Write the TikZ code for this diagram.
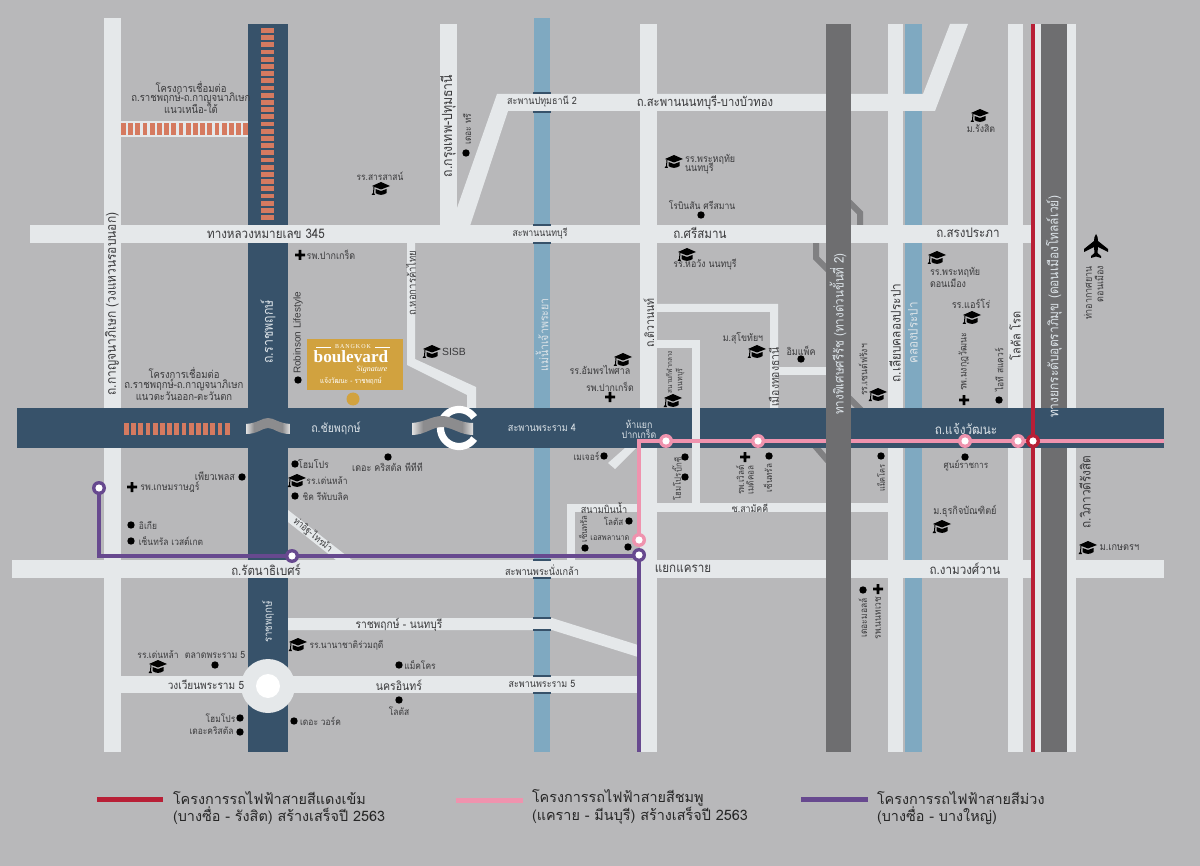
\documentclass[tikz,border=0pt]{standalone}
\usepackage{fontspec}
\setmainfont{Loma}[Script=Thai,FakeStretch=0.88]
\newfontfamily\lgf{Loma}[Script=Thai]
\newfontfamily\latinserif{Liberation Serif}
\newfontfamily\latinsans{Liberation Sans}
\definecolor{bgc}{HTML}{B8B8BA}
\definecolor{roadc}{HTML}{E5E8EA}
\definecolor{navyc}{HTML}{37526A}
\definecolor{riverc}{HTML}{7FA9C1}
\definecolor{expc}{HTML}{6E6E70}
\definecolor{linkc}{HTML}{808082}
\definecolor{salmonc}{HTML}{D57A60}
\definecolor{goldc}{HTML}{D1A23F}
\definecolor{pinkc}{HTML}{EF93AE}
\definecolor{redc}{HTML}{B81F36}
\definecolor{purplec}{HTML}{67498F}
\definecolor{inkc}{HTML}{3A3A3C}
\definecolor{lightt}{HTML}{DCE3E8}
\definecolor{ovpe}{HTML}{E2E2E2}
\definecolor{ovpm}{HTML}{8C8C8E}
\pgfdeclarehorizontalshading{ovpshade}{100bp}{color(0bp)=(ovpe); color(25bp)=(ovpe); color(34bp)=(ovpm); color(66bp)=(ovpm); color(75bp)=(ovpe); color(100bp)=(ovpe)}
\newcounter{tn}
\tikzset{
 tx/.style={inner sep=0pt,outer sep=0pt,text=inkc,align=center,font=\fontsize{#1}{#1}\selectfont},
 tx/.default=5,
 lt/.style={tx=#1,text=lightt},
 lt/.default=6,
 road/.style={fill=roadc,draw=none},
 tick/.style={draw=navyc,line width=1pt},
 salm/.style={fill=salmonc,draw=none},
 link/.style={draw=linkc,line width=3pt},
 dotm/.style={circle,fill=black,inner sep=0pt,minimum size=3.7pt,outer sep=0pt},
 ovp/.style={shading=ovpshade},
}
\newcommand{\T}[4][tx]{\stepcounter{tn}\node[#1,name=t\arabic{tn}] at (#2,#3) {#4};}
\newcommand{\R}[4][tx]{\stepcounter{tn}\node[#1,rotate=90,name=t\arabic{tn}] at (#2,#3) {#4};}
\newcommand{\D}[2]{\stepcounter{tn}\node[dotm,name=d\arabic{tn}] at (#1,#2) {};}
\newcommand{\X}[2]{\fill[black] (#1-5,#2-1.3) rectangle (#1+5,#2+1.3) (#1-1.3,#2-5) rectangle (#1+1.3,#2+5);}
\newcommand{\C}[2]{\begin{scope}[shift={(#1,#2)}]
 \fill[black] (-9,-2) -- (0,-6) -- (9,-2) -- (0,1.5) -- cycle;
 \fill[black] (-5.5,1) -- (0,3) -- (5.5,1) -- (5.5,5) .. controls (2,7.5) and (-2,7.5) .. (-5.5,5) -- cycle;
 \draw[black,line width=.5pt] (-7,-1) -- (-7.5,5);
 \fill[black] (-7.5,4) -- (-9.5,7) -- (-6,7) -- cycle;
\end{scope}}
\begin{document}
\begin{tikzpicture}[x=0.5pt,y=-0.5pt]
\useasboundingbox (0,0) rectangle (1200,866);
\fill[bgc] (0,0) rectangle (1200,866);
% rivers
\fill[riverc] (534,18) rectangle (550,752);
\fill[riverc] (905,24) rectangle (922,752);
% link stubs of the expressway
\draw[link] (816,243) -- (816,258) -- (828,270);
\draw[link] (849,202) -- (860,213) -- (860,226);
\draw[link] (849,398) -- (861,410);
\draw[link] (815,446) -- (828,461);
% light vertical roads
\fill[road] (104,18) rectangle (121,752);
\fill[road] (440,24) rectangle (457,226);
\fill[road] (640,24) rectangle (657,752);
\fill[road] (888,24) rectangle (903,752);
\fill[road] (1008,24) rectangle (1023,752);
\fill[road] (1035,24) rectangle (1041,752);
\fill[road] (1067,24) rectangle (1076,752);
% light horizontal roads
\fill[road] (497,94) -- (923,94) -- (950,24) -- (968,24) -- (935,111) -- (508,111) -- (470,226) -- (457,226) -- (457,208) -- cycle;
\fill[road] (121,676) rectangle (638,693);
\fill[road] (288,618) -- (552,618) -- (638,645) -- (638,657) -- (552,630) -- (288,630) -- cycle;
\fill[road] (407,243) -- (415,243) -- (415,359) -- (476,387) -- (476,408) -- (467,408) -- (467,395) -- (407,365) -- cycle;
\fill[road] (657,304) -- (778,304) -- (778,408) -- (770,408) -- (770,312) -- (657,312) -- cycle;
\fill[road] (778,367) rectangle (826,375);
\fill[road] (657,340) rectangle (700,348);
\fill[road] (567,504) rectangle (640,512);
\fill[road] (567,504) rectangle (575,560);
\fill[road] (608,463) -- (615,469) -- (636,448) -- (625,448) -- cycle;
\fill[road] (288,510) -- (352,560) -- (336,560) -- (288,522) -- cycle;
\fill[road] (657,503) rectangle (888,512);
% navy roads
\fill[navyc] (248,24) rectangle (288,752);
\fill[road] (121,121) rectangle (248,137);
\fill[road] (12,560) rectangle (1164,578);
\fill[road] (30,225) rectangle (1031,243);
\fill[expc] (1041,24) rectangle (1067,752);
\fill[navyc] (17,408) rectangle (1164,448);
\fill[road] (692,340) rectangle (700,512);
% bridge ticks
\foreach \yy in {93,112,225,243,560,578,618,630,676,693}{\draw[tick] (533,\yy) -- (551,\yy);}
% salmon blocks
\foreach \i in {0,...,17}{\fill[salm] ({121+7.2*\i},123) rectangle ({min(121+7.2*\i+4.8,248)},135.5);}
\foreach \i in {0,...,26}{\fill[salm] (261,{28+7.2*\i}) rectangle (274,{28+7.2*\i+4.8});}
\foreach \i in {0,...,14}{\fill[salm] ({124+7.2*\i},423) rectangle ({124+7.2*\i+4.8},435);}
% roundabout
\fill[roadc] (268,686) circle[radius=27];
\fill[white] (268,686) circle[radius=12];
% rail lines
\draw[purplec,line width=1.8pt,line join=miter] (99,488) -- (99,556) -- (639,556) -- (639,752);
\draw[pinkc,line width=1.8pt,line join=miter] (639,540) -- (639,441) -- (1164,441);
\fill[expc] (826,24) rectangle (851,752);
\draw[redc,line width=2pt] (1033,24) -- (1033,752);
% overpass
\draw[white,line width=3.6pt] plot[domain=35:325,samples=40] ({459+18.5*cos(\x)},{428+18.5*sin(\x)});
\shade[ovp] (246,424) .. controls (258,423) and (262,418) .. (268,418) .. controls (274,418) and (278,423) .. (290,424) -- (290,434) .. controls (278,434) and (274,428) .. (268,428) .. controls (262,428) and (258,434) .. (246,434) -- cycle;
\shade[ovp] (412,423) .. controls (425,422) and (432,416) .. (442,416) .. controls (452,416) and (460,423) .. (473,423) -- (473,435) .. controls (460,435) and (452,427) .. (442,427) .. controls (432,427) and (425,435) .. (412,435) -- cycle;
% stations
\foreach \p/\c/\o in {666/441/pinkc,758/441/pinkc,965/441/pinkc,1018/441/pinkc,639/540/pinkc,1033/441/redc,292/556/purplec,639/555/purplec,99/488/purplec}{
 \fill[\o] (\p,\c) circle[radius=7];
 \fill[white] (\p,\c) circle[radius=3.6];}
% project logo
\fill[goldc] (306.5,339) rectangle (403,390);
\fill[goldc] (353,399) circle[radius=6.5];
\T[tx=3]{353}{347}{\latinserif\color{white}B\,A\,N\,G\,K\,O\,K}
\draw[white,line width=.3pt] (316,347) -- (331,347) (375,347) -- (390,347);
\T[tx=8.6]{351}{357}{\latinserif\bfseries\color{white}boulevard}
\T[tx=4]{372}{370}{\latinserif\itshape\color{white}Signature}
\T[tx=3.6]{351}{381}{\color{white}แจ้งวัฒนะ - ราชพฤกษ์}
% road labels
\T[tx=6.6]{266}{234}{ทางหลวงหมายเลข 345}
\R[tx=6.8]{112}{304}{ถ.กาญจนาภิเษก (วงแหวนรอบนอก)}
\R[lt=7]{268}{332}{ถ.ราชพฤกษ์}
\R[lt=5.5]{268}{622}{ราชพฤกษ์}
\R[tx=7]{448}{126}{ถ.กรุงเทพ-ปทุมธานี}
\R[tx=5.4]{411}{283}{ถ.หอการค้าไทย}
\T[lt=6]{336}{428}{ถ.ชัยพฤกษ์}
\T[tx=6.5]{266}{570}{ถ.รัตนาธิเบศร์}
\T[tx=5.8]{399}{625}{ราชพฤกษ์ - นนทบุรี}
\T[tx=5.7]{206}{685}{วงเวียนพระราม 5}
\T[tx=6]{399}{685}{นครอินทร์}
\T[tx=5.1]{542}{102}{สะพานปทุมธานี 2}
\T[tx=6.4]{705}{103}{ถ.สะพานนนทบุรี-บางบัวทอง}
\T[tx=5]{540}{234}{สะพานนนทบุรี}
\T[tx=6.6]{700}{233}{ถ.ศรีสมาน}
\T[tx=6.6]{968}{233}{ถ.สรงประภา}
\T[tx=5.2]{542}{570}{สะพานพระนั่งเกล้า}
\T[tx=5.1]{542}{684}{สะพานพระราม 5}
\T[lt=5.2]{542}{428}{สะพานพระราม 4}
\R[lt=6]{542}{335}{แม่น้ำเจ้าพระยา}
\R[tx=6]{649}{323}{ถ.ติวานนท์}
\T[lt=5]{639}{424}{ห้าแยก}
\T[lt=5]{639}{434}{ปากเกร็ด}
\T[tx=6.6]{683}{569}{แยกแคราย}
\T[tx=6.6]{965}{569}{ถ.งามวงศ์วาน}
\R[lt=6.6]{838}{334}{ทางพิเศษศรีรัช (ทางด่วนขั้นที่ 2)}
\R[tx=6.7]{895}{333}{ถ.เลียบคลองประปา}
\R[lt=6.6]{913}{333}{คลองประปา}
\R[tx=6.2]{1015}{336}{โลคัล โรด}
\R[lt=6.8]{1054}{307}{ทางยกระดับอุตราภิมุข (ดอนเมืองโทลล์เวย์)}
\T[lt=6.7]{966}{429}{ถ.แจ้งวัฒนะ}
\R[tx=6.7]{1085}{492}{ถ.วิภาวดีรังสิต}
\T[tx=5.2]{604}{508}{สนามบินน้ำ}
\T[tx=5]{750}{508}{ซ.สามัคคี}
\R[tx=5.9]{774}{377}{เมืองทองธานี}
\stepcounter{tn}\node[tx=4.8,rotate=-40,name=t\arabic{tn}] at (313,535) {ท่าอิฐ-ไทรม้า};
% notes
\T[tx=5.4]{191}{87}{โครงการเชื่อมต่อ}
\T[tx=5.4]{191}{98}{ถ.ราชพฤกษ์-ถ.กาญจนาภิเษก}
\T[tx=5.4]{191}{108.5}{แนวเหนือ-ใต้}
\T[tx=5.4]{184}{373}{โครงการเชื่อมต่อ}
\T[tx=5.4]{184}{385}{ถ.ราชพฤกษ์-ถ.กาญจนาภิเษก}
\T[tx=5.4]{184}{396}{แนวตะวันออก-ตะวันตก}
% places
\T[tx=4.8]{380}{176}{รร.สารสาสน์}
\C{381}{188}
\R[tx=4.8]{467}{129}{เดอะ ทรี}
\D{466}{153}
\X{300}{255}
\T[tx=5.1]{331}{255}{รพ.ปากเกร็ด}
\R[tx=5]{298}{333}{\latinsans Robinson Lifestyle}
\D{298}{380}
\C{432}{351}
\T[tx=5.2]{454}{352}{\latinsans SISB}
\D{295}{464}
\T[tx=5]{313.5}{464}{โฮมโปร}
\D{388}{457}
\T[tx=5.1]{387.5}{467}{เดอะ คริสตัล พีทีที}
\C{297}{480}
\T[tx=4.8]{327}{481}{รร.เด่นหล้า}
\D{295}{496}
\T[tx=4.8]{325.5}{496}{ชิค รีพับบลิค}
\T[tx=5.2]{215}{476}{เพียวเพลส}
\D{242}{477}
\X{132}{487}
\T[tx=5]{170}{487}{รพ.เกษมราษฎร์}
\D{131}{525}
\T[tx=4.8]{148}{525}{อิเกีย}
\D{131}{541}
\T[tx=4.8]{171}{541}{เซ็นทรัล เวสต์เกต}
\C{298}{644}
\T[tx=4.8]{346.5}{645}{รร.นานาชาติร่วมฤดี}
\T[tx=4.8]{158}{655}{รร.เด่นหล้า}
\C{158}{666}
\T[tx=5]{215}{655}{ตลาดพระราม 5}
\D{215}{665}
\D{399}{665}
\T[tx=4.8]{420}{665}{แม็คโคร}
\D{399}{700}
\T[tx=4.8]{399}{711}{โลตัส}
\D{240}{718}
\T[tx=4.8]{220.5}{718}{โฮมโปร}
\D{240}{732}
\T[tx=4.8]{211.5}{731}{เดอะคริสตัล}
\D{294}{721}
\T[tx=4.8]{320.5}{721}{เดอะ วอร์ค}
\C{674}{161}
\stepcounter{tn}\node[tx=5.1,anchor=west,name=t\arabic{tn}] at (685,159) {รร.พระหฤทัย};
\stepcounter{tn}\node[tx=5.1,anchor=west,name=t\arabic{tn}] at (685,169) {นนทบุรี};
\T[tx=4.9]{702}{205}{โรบินสัน ศรีสมาน}
\D{701}{215}
\C{687}{254}
\T[tx=5]{705}{265}{รร.หอวัง นนทบุรี}
\C{980}{115}
\T[tx=5]{981}{129}{ม.รังสิต}
\C{937}{257}
\stepcounter{tn}\node[tx=5.1,anchor=west,name=t\arabic{tn}] at (930,272) {รร.พระหฤทัย};
\stepcounter{tn}\node[tx=5.1,anchor=west,name=t\arabic{tn}] at (930,283) {ดอนเมือง};
\T[tx=5.2]{971}{304}{รร.แอร์โร่}
\C{972}{317}
\R[tx=5.1]{1088}{293}{ท่าอากาศยาน}
\R[tx=5.1]{1099}{284}{ดอนเมือง}
\R[tx=5]{964}{362}{รพ.มงกุฎวัฒนะ}
\X{964}{400}
\R[tx=4.8]{999}{370}{ไอที สแควร์}
\D{999}{400}
\R[tx=4.9]{863}{370}{รร.เซนต์ฟรังฯ}
\C{878}{394}
\T[tx=4.7]{966}{466}{ศูนย์ราชการ}
\D{965}{457}
\R[tx=4.2]{881}{478}{แม็คโคร}
\D{881}{456}
\T[tx=5.2]{965}{511}{ม.ธุรกิจบัณฑิตย์}
\C{942}{526}
\C{1088}{547}
\T[tx=5.2]{1119.5}{548}{ม.เกษตรฯ}
\R[tx=4.8]{863}{618}{เดอะมอลล์}
\D{863}{590}
\R[tx=4.8]{878}{618}{รพ.นนทเวช}
\X{878}{589}
\C{623}{359}
\T[tx=5.1]{600}{370}{รร.อัมพรไพศาล}
\T[tx=5]{610}{387}{รพ.ปากเกร็ด}
\X{610}{397}
\T[tx=4.8]{586.5}{456}{เมเจอร์}
\D{604}{456}
\T[tx=5]{743}{338}{ม.สุโขทัยฯ}
\C{757}{351}
\T[tx=5.1]{801}{351}{อิมแพ็ค}
\D{801}{359}
\R[tx=3.6]{669}{372}{สนามกีฬากลาง}
\R[tx=4]{680}{380}{นนทบุรี}
\C{673}{400}
\R[tx=4.4]{677}{487}{โฮมโปร}
\R[tx=4.4]{677}{465}{บิ๊กซี}
\D{685}{457}
\D{685}{477}
\R[tx=4.6]{740}{480}{รพ.เวิลด์}
\R[tx=4.6]{750}{480}{เมดิคอล}
\X{745}{457}
\R[tx=4.6]{768}{478}{เซ็นทรัล}
\D{769}{456}
\T[tx=4.6]{613.5}{521}{โลตัส}
\D{629}{521}
\R[tx=4.4]{583}{529}{เซ็นทรัล}
\D{585}{548}
\T[tx=4.2]{610}{538}{เอสพลานาด}
\D{628}{547}
% plane
\begin{scope}[shift={(1096,246)}]
\fill[black] (0,-12) .. controls (1.5,-10) and (2,-8) .. (2,-5) -- (12,3) -- (12,6) -- (2,1) -- (1.5,7) -- (5,10) -- (5,12) -- (0,10.5) -- (-5,12) -- (-5,10) -- (-1.5,7) -- (-2,1) -- (-12,6) -- (-12,3) -- (-2,-5) .. controls (-2,-8) and (-1.5,-10) .. (0,-12) -- cycle;
\end{scope}
% legend
\coordinate (la) at (97,799); \coordinate (lb) at (163,799);
\coordinate (lc) at (456,800); \coordinate (ld) at (523,800);
\coordinate (le) at (801,799); \coordinate (lf) at (868,799);
\draw[redc,line width=2.5pt] (la) -- (lb);
\draw[pinkc,line width=2.5pt] (lc) -- (ld);
\draw[purplec,line width=2.5pt] (le) -- (lf);
\tikzset{lg/.style={tx=7.2,anchor=west,text=black!85}}
\stepcounter{tn}\node[lg,name=t\arabic{tn}] at (173,798) {\lgf โครงการรถไฟฟ้าสายสีแดงเข้ม};
\stepcounter{tn}\node[lg,name=t\arabic{tn}] at (173,816) {\lgf (บางซื่อ - รังสิต) สร้างเสร็จปี 2563};
\stepcounter{tn}\node[lg,name=t\arabic{tn}] at (532,798) {\lgf โครงการรถไฟฟ้าสายสีชมพู};
\stepcounter{tn}\node[lg,name=t\arabic{tn}] at (532,816) {\lgf (แคราย - มีนบุรี) สร้างเสร็จปี 2563};
\stepcounter{tn}\node[lg,name=t\arabic{tn}] at (877,798) {\lgf โครงการรถไฟฟ้าสายสีม่วง};
\stepcounter{tn}\node[lg,name=t\arabic{tn}] at (877,816) {\lgf (บางซื่อ - บางใหญ่)};
\end{tikzpicture}
\end{document}
